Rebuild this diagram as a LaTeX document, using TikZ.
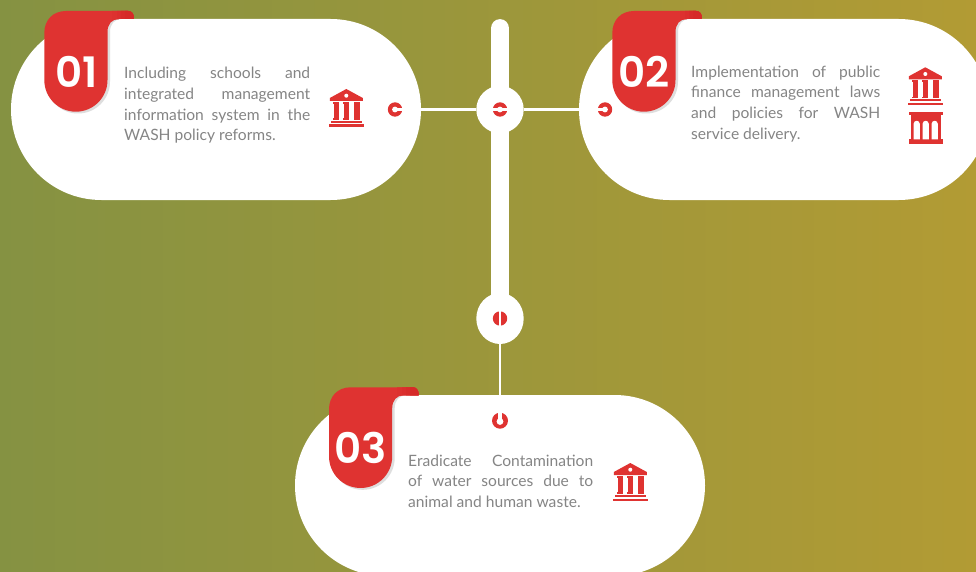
\documentclass[tikz,border=0pt]{standalone}
\usepackage{fontspec}
\setmainfont{Lato}
\newfontfamily\numfont{Poppins SemiBold}
\usetikzlibrary{shapes.geometric}
\definecolor{rd}{HTML}{DF3331}
\definecolor{rddark}{HTML}{D62A28}
\definecolor{txtgray}{HTML}{858585}
\definecolor{bgl}{RGB}{133,146,66}
\definecolor{bgm}{RGB}{160,150,62}
\definecolor{bgr}{RGB}{178,155,52}
\newcommand{\jl}[2]{\makebox[#1pt][s]{#2}\\}
\newcommand{\colm}[2]{%
  \fill[rd] (#1,13) rectangle (#2,14.6);
  \fill[rd] (#1+0.5,14) rectangle (#2-0.5,30);
  \fill[rd] (#1,29.4) rectangle (#2,31);
}
\tikzset{
  pill/.style={draw=none,fill=white,rounded corners=90.4pt,minimum width=410pt,minimum height=181pt,inner sep=0pt},
  hubnode/.style={circle,fill=white,minimum size=47.4pt,inner sep=0pt},
  hubtall/.style={ellipse,fill=white,minimum width=47.4pt,minimum height=51pt,inner sep=0pt},
  wire/.style={draw=white,line width=2.5pt},
  para/.style={anchor=north west,inner sep=0pt,align=left,text=txtgray,font=\fontsize{15.6}{20.6}\selectfont},
  numlabel/.style={text=white,inner sep=0pt,font=\numfont\fontsize{42}{42}\selectfont},
  bankicon/.pic={
    \fill[rd] (0,0) -- (16.5,9) -- (16.5,12) -- (-16.5,12) -- (-16.5,9) -- cycle;
    \fill[white] (0,6.7) circle[radius=2];
    \colm{-13.2}{-7.2}
    \colm{-3}{3}
    \colm{7.5}{13.7}
    \fill[rd] (-15,32) rectangle (15.7,34.2);
    \fill[rd] (-16.9,35.5) rectangle (17.4,38);
  },
  arcadeicon/.pic={
    \fill[rd] (-17,0) rectangle (17,3);
    \fill[rd] (-15,3) rectangle (15,27);
    \fill[rd] (-17,27) rectangle (17,32);
    \foreach \cx in {-9,0,9}{
      \fill[white] (\cx-3.1,27) -- (\cx-3.1,11.5) .. controls (\cx-3.1,9.5) and (\cx-1.5,8.5) .. (\cx,8.5) .. controls (\cx+1.5,8.5) and (\cx+3.1,9.5) .. (\cx+3.1,11.5) -- (\cx+3.1,27) -- cycle;
    }
  },
  ringright/.pic={
    \fill[rd] (0,0) circle[radius=7.2];
    \fill[white] (0,0) circle[radius=2.9];
    \fill[white] (0,-1.4) rectangle (8,1.4);
  },
  ringleft/.pic={
    \fill[rd] (0,0) circle[radius=7.2];
    \fill[white] (0,0) circle[radius=2.9];
    \fill[white] (0,-1.4) rectangle (-8,1.4);
  },
  ringboth/.pic={
    \fill[rd] (0,0) circle[radius=7.2];
    \fill[white] (0,0) circle[radius=2.9];
    \fill[white] (-8,-1.2) rectangle (8,1.2);
  },
  ringslit/.pic={
    \fill[rd] (0,0) circle[radius=7.2];
    \fill[white] (-1,-8) rectangle (1,8);
  },
  ringup/.pic={
    \fill[rd] (0,0) circle[radius=8];
    \fill[white] (0,0.8) circle[radius=3.4];
    \fill[white] (-1.6,-9) rectangle (1.6,0.8);
  },
  ribbon/.pic={
    \fill[black!13] (100,19) -- (121.5,19) .. controls (114.5,19) and (110,24) .. (110,32) -- (110,81.5) .. controls (110,99) and (96,113.5) .. (78,113.5) .. controls (60,113.5) and (46,99) .. (46,81.5) -- cycle;
    \fill[rd] (44.3,33) .. controls (44.3,20) and (53,11) .. (66,11) -- (128,11) .. controls (132,11) and (134,14) .. (134,19) -- (119,19) .. controls (112,19) and (107.5,24) .. (107.5,32) -- (107.5,80) .. controls (107.5,97.5) and (93.4,111.7) .. (75.9,111.7) .. controls (58.4,111.7) and (44.3,97.5) .. (44.3,80) -- cycle;
    \begin{scope}
      \clip (108,11) -- (128,11) .. controls (132,11) and (134,14) .. (134,19) -- (119,19) .. controls (115,19) and (112,20.5) .. (110,23) -- cycle;
      \fill[rd!75!rddark] (112,10) rectangle (135,20);
      \fill[rd!50!rddark] (117,10) rectangle (135,20);
      \fill[rd!25!rddark] (121,10) rectangle (135,20);
      \fill[rddark] (125,10) rectangle (135,20);
    \end{scope}
  }
}
\begin{document}
\begin{tikzpicture}[x=1pt,y=-1pt]
\useasboundingbox (0,0) rectangle (976,572);
\clip (0,0) rectangle (976,572);
\fill[left color=bgl,middle color=bgm,right color=bgr] (0,0) rectangle (976,572);

% pills
\node[pill] (p1) at (216,109.5) {};
\node[pill] (p2) at (784,109.5) {};
\node[pill] (p3) at (500,485.5) {};

% central stem
\coordinate (stemtop) at (500,28.5);
\node[hubnode] (h1) at (500,109.5) {};
\node[hubtall] (h3) at (500,318.5) {};
\draw[white,line width=18.8pt,line cap=round] (stemtop) -- (h3.center);
\draw[wire] (p1.east) -- (h1.west);
\draw[wire] (h1.east) -- (p2.west);
\draw[wire] (h3.south) -- (p3.north);

% ribbons
\pic at (0,0) {ribbon};
\pic at (568,0) {ribbon};
\pic at (284.7,376.3) {ribbon};
\node[numlabel] (n1) at (76.5,72) {01};
\node[numlabel] (n2) at (644,72) {02};
\node[numlabel] (n3) at (360.5,448) {03};

% paragraphs
\node[para] (t1) at (124,67.2) {\jl{186}{Including schools and}\jl{186}{integrated management}\jl{186}{information system in the}WASH policy reforms.};
\node[para] (t2) at (691,65.7) {\jl{189}{Implementation of public}\jl{189}{finance management laws}\jl{189}{and policies for WASH}service delivery.};
\node[para] (t3) at (408,454.7) {\jl{185}{Eradicate Contamination}\jl{185}{of water sources due to}animal and human waste.};

% icons
\pic at (346.3,89) {bankicon};
\pic at (925.3,67.3) {bankicon};
\pic at (630.3,463) {bankicon};
\pic at (925.7,112.3) {arcadeicon};

% ring marks
\pic at (395,109.5) {ringright};
\pic at (500,109.5) {ringboth};
\pic at (605,109.5) {ringleft};
\pic at (500,318.5) {ringslit};
\pic at (500,420.7) {ringup};
\end{tikzpicture}
\end{document}
